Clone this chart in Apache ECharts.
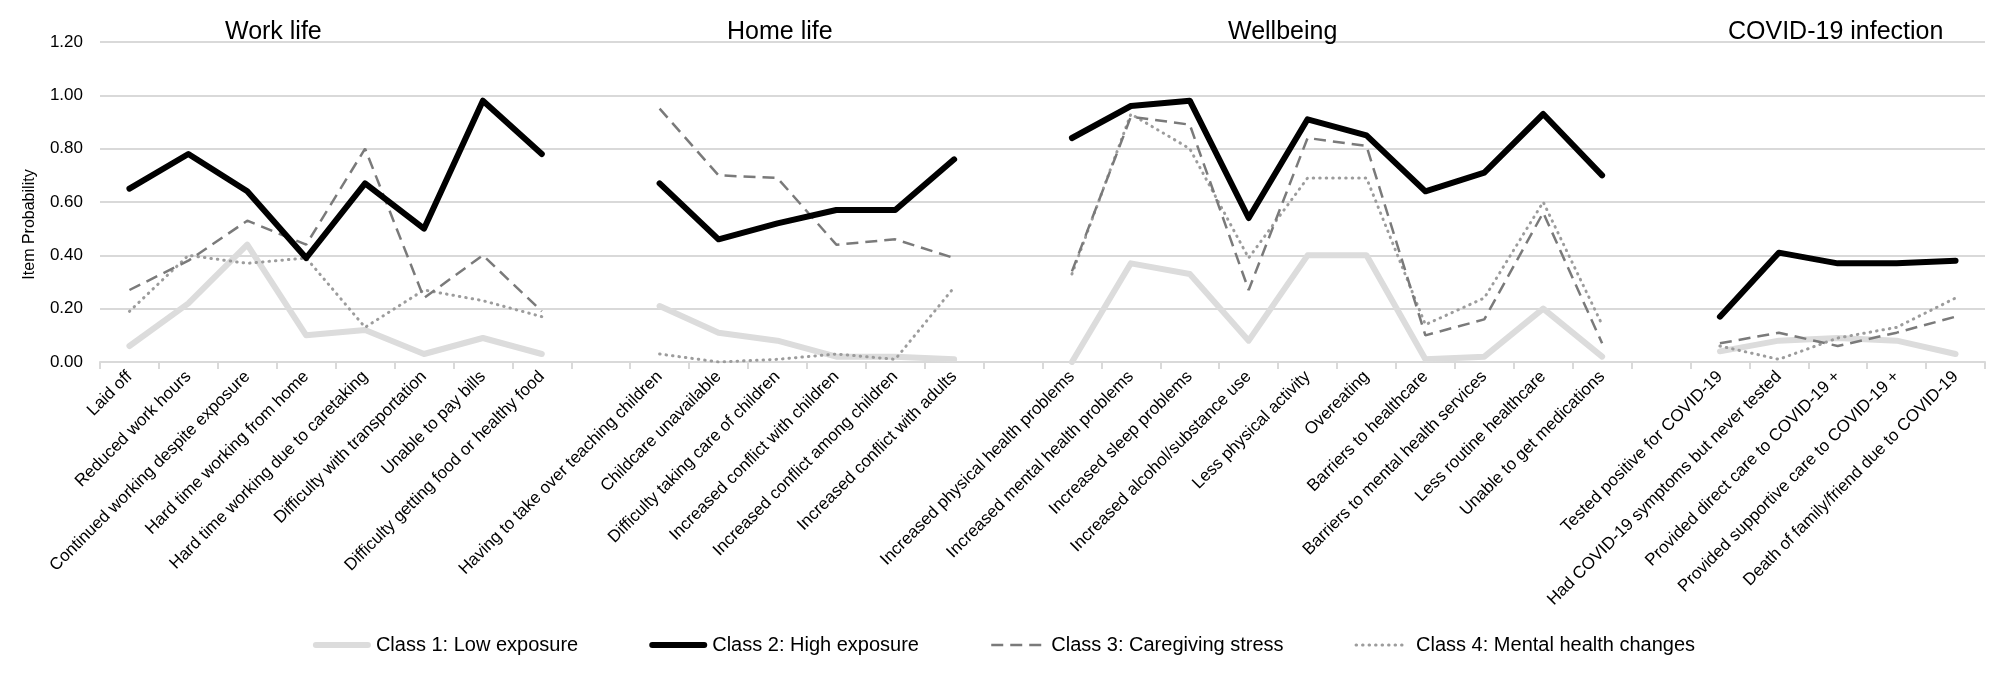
<!DOCTYPE html>
<html>
<head>
<meta charset="utf-8">
<title>Item probability by class</title>
<script src="https://cdn.jsdelivr.net/npm/echarts@6/dist/echarts.min.js"></script>
<style>
  html, body { margin: 0; padding: 0; background: #fff; }
  #chart { width: 2008px; height: 690px; }
</style>
</head>
<body>
<div id="chart"></div>
<script>
// item groups, a blank category sits between groups
var workLife = ['Laid off', 'Reduced work hours', 'Continued working despite exposure', 'Hard time working from home',
    'Hard time working due to caretaking', 'Difficulty with transportation', 'Unable to pay bills',
    'Difficulty getting food or healthy food'];
var homeLife = ['Having to take over teaching children', 'Childcare unavailable', 'Difficulty taking care of children',
    'Increased conflict with children', 'Increased conflict among children', 'Increased conflict with adults'];
var wellbeing = ['Increased physical health problems', 'Increased mental health problems', 'Increased sleep problems',
    'Increased alcohol/substance use', 'Less physical activity', 'Overeating', 'Barriers to healthcare',
    'Barriers to mental health services', 'Less routine healthcare', 'Unable to get medications'];
var covid = ['Tested positive for COVID-19', 'Had COVID-19 symptoms but never tested', 'Provided direct care to COVID-19 +',
    'Provided supportive care to COVID-19 +', 'Death of family/friend due to COVID-19'];
var groupTitles = ['Work life', 'Home life', 'Wellbeing', 'COVID-19 infection'];

var yTicks = [0, 0.2, 0.4, 0.6, 0.8, 1.0, 1.2];

// null = gap between groups
var class1 = [0.06, 0.22, 0.44, 0.10, 0.12, 0.03, 0.09, 0.03, null,
    0.21, 0.11, 0.08, 0.02, 0.02, 0.01, null,
    0.00, 0.37, 0.33, 0.08, 0.40, 0.40, 0.01, 0.02, 0.20, 0.02, null,
    0.04, 0.08, 0.09, 0.08, 0.03];
var class2 = [0.65, 0.78, 0.64, 0.39, 0.67, 0.50, 0.98, 0.78, null,
    0.67, 0.46, 0.52, 0.57, 0.57, 0.76, null,
    0.84, 0.96, 0.98, 0.54, 0.91, 0.85, 0.64, 0.71, 0.93, 0.70, null,
    0.17, 0.41, 0.37, 0.37, 0.38];
var class3 = [0.27, 0.38, 0.53, 0.44, 0.80, 0.24, 0.40, 0.19, null,
    0.95, 0.70, 0.69, 0.44, 0.46, 0.39, null,
    0.34, 0.92, 0.89, 0.27, 0.84, 0.81, 0.10, 0.16, 0.56, 0.07, null,
    0.07, 0.11, 0.06, 0.11, 0.17];
var class4 = [0.19, 0.40, 0.37, 0.39, 0.13, 0.27, 0.23, 0.17, null,
    0.03, 0.00, 0.01, 0.03, 0.01, 0.28, null,
    0.33, 0.93, 0.80, 0.39, 0.69, 0.69, 0.14, 0.24, 0.60, 0.14, null,
    0.06, 0.01, 0.09, 0.13, 0.24];

var classNames = ['Class 1: Low exposure', 'Class 2: High exposure', 'Class 3: Caregiving stress', 'Class 4: Mental health changes'];

var categories = [].concat(workLife, [''], homeLife, [''], wellbeing, [''], covid);

var font = "'Liberation Sans', Arial, sans-serif";
var titleLeft = [225, 727, 1228, 1728];

var chart = echarts.init(document.getElementById('chart'));

var option = {
    animation: false,
    backgroundColor: '#fff',
    textStyle: { fontFamily: font },
    title: groupTitles.map((t, i) => ({
        text: t,
        left: titleLeft[i],
        top: 20,
        padding: 0,
        textStyle: { fontFamily: font, fontSize: 25, fontWeight: 'normal', color: '#000' }
    })),
    legend: {
        bottom: 30,
        left: 'center',
        itemWidth: 52,
        itemHeight: 14,
        itemGap: 71,
        itemStyle: { opacity: 0 },
        lineStyle: { width: 'inherit' },
        textStyle: { fontFamily: font, fontSize: 20, color: '#000', padding: [0, 0, 0, 3] },
        data: classNames
    },
    grid: { left: 100, right: 23, top: 42, bottom: 328 },
    xAxis: {
        type: 'category',
        data: categories,
        boundaryGap: true,
        axisLine: { lineStyle: { color: '#d9d9d9', width: 2 } },
        axisTick: { show: true, length: 7, lineStyle: { color: '#d9d9d9', width: 2 } },
        axisLabel: {
            interval: 0,
            rotate: 45,
            margin: 12,
            fontSize: 17,
            color: '#000',
            fontFamily: font,
            hideOverlap: false
        }
    },
    yAxis: {
        type: 'value',
        min: 0,
        max: 1.2,
        interval: 0.2,
        name: 'Item Probability',
        nameLocation: 'middle',
        nameGap: 62,
        nameTextStyle: { fontSize: 16, color: '#000', fontFamily: font, padding: [0, 45, 0, 0] },
        axisLine: { show: false },
        axisTick: { show: false },
        axisLabel: {
            margin: 17,
            fontSize: 17,
            color: '#000',
            fontFamily: font,
            formatter: (v) => yTicks.indexOf(+v.toFixed(1)) >= 0 ? v.toFixed(2) : ''
        },
        splitLine: { lineStyle: { color: '#d9d9d9', width: 2 } }
    },
    series: [
        {
            name: classNames[0], type: 'line', data: class1, symbol: 'none', z: 1,
            lineStyle: { color: '#dcdcdc', width: 6, cap: 'round', join: 'round' },
            itemStyle: { color: '#dcdcdc' }
        },
        {
            name: classNames[1], type: 'line', data: class2, symbol: 'none', z: 4,
            lineStyle: { color: '#000', width: 6, cap: 'round', join: 'round' },
            itemStyle: { color: '#000' }
        },
        {
            name: classNames[2], type: 'line', data: class3, symbol: 'none', z: 3,
            lineStyle: { color: '#7a7a7a', width: 2.5, type: [12, 7] },
            itemStyle: { color: '#7a7a7a' }
        },
        {
            name: classNames[3], type: 'line', data: class4, symbol: 'none', z: 2,
            lineStyle: { color: '#9c9c9c', width: 3, type: [0.5, 6], cap: 'round' },
            itemStyle: { color: '#9c9c9c' }
        }
    ]
};

chart.setOption(option);
</script>
</body>
</html>
